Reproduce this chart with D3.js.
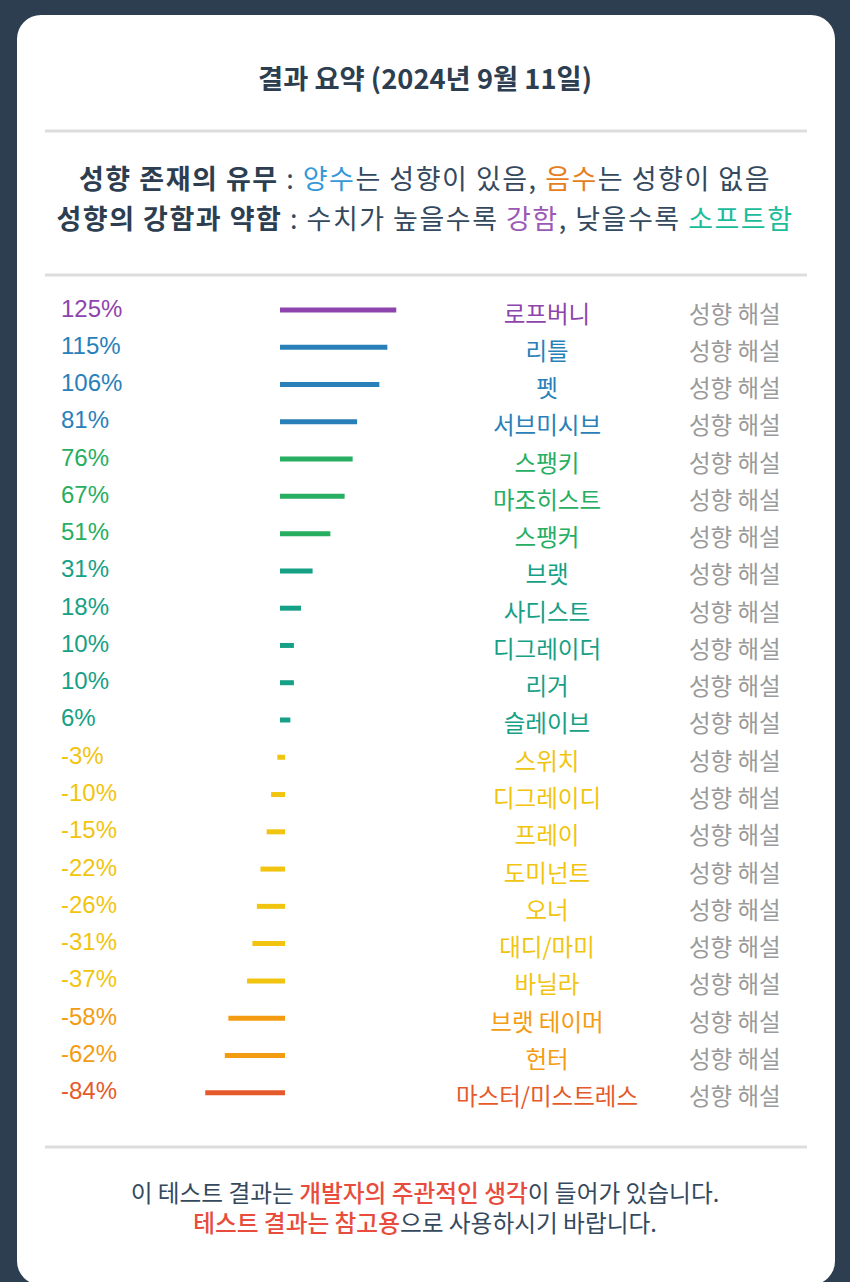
<!DOCTYPE html>
<html>
<head>
<meta charset="utf-8">
<script src="https://cdn.jsdelivr.net/npm/d3@7"></script>
<style>
  html, body { margin: 0; padding: 0; background: #2c3e50; }
  svg { display: block; }
</style>
</head>
<body>
<svg id="chart" width="850" height="1282"></svg>
<script>
// ---- data ----
const names = ['로프버니','리틀','펫','서브미시브','스팽키','마조히스트','스팽커','브랫','사디스트','디그레이더','리거','슬레이브','스위치','디그레이디','프레이','도미넌트','오너','대디/마미','바닐라','브랫 테이머','헌터','마스터/미스트레스'];
const values = [125,115,106,81,76,67,51,31,18,10,10,6,-3,-10,-15,-22,-26,-31,-37,-58,-62,-84];
const colors = ['#8e44ad','#2980b9','#2980b9','#2980b9','#27ae60','#27ae60','#27ae60','#16a085','#16a085','#16a085','#16a085','#16a085','#f1c40f','#f1c40f','#f1c40f','#f1c40f','#f1c40f','#f1c40f','#f1c40f','#f39c12','#f39c12','#e55a2b'];
const titleText = '결과 요약 (2024년 9월 11일)';
const linkText = '성향 해설';

const KR = "'Noto Sans CJK KR', 'Noto Sans', sans-serif";
const LAT = "'Liberation Sans', Arial, 'Noto Sans CJK KR', sans-serif";

const svg = d3.select('#chart');

// card
svg.append('rect').attr('x', 17).attr('y', 15).attr('width', 818).attr('height', 1270)
  .attr('rx', 24).attr('fill', '#ffffff');

// title
svg.append('text').attr('x', 425).attr('y', 77).attr('text-anchor', 'middle')
  .attr('dominant-baseline', 'central')
  .attr('font-family', KR).attr('font-size', 27.3).attr('font-weight', 700)
  .attr('fill', '#2c3e50').text(titleText);

// separators
[131, 275, 1147].forEach(y => {
  svg.append('rect').attr('x', 45).attr('y', y - 1.5).attr('width', 762).attr('height', 3)
    .attr('fill', '#dddddd');
});

// multi-line rich text block (one text element, one chunk per line)
function richBlock(y0, lines) {
  const t = svg.append('text').attr('text-anchor', 'middle')
    .attr('dominant-baseline', 'central')
    .attr('font-family', KR).attr('xml:space', 'preserve');
  let yy = y0;
  lines.forEach((ln, li) => {
    if (li > 0) yy += ln.gap;
    ln.parts.forEach((p, pi) => {
      const ts = t.append('tspan').attr('fill', p.c).attr('font-weight', p.w || 400)
        .attr('font-size', ln.size).attr('letter-spacing', ln.ls || 0)
        .style('white-space', 'pre').text(p.t);
      if (pi === 0) ts.attr('x', 425).attr('y', yy);
    });
  });
}
richBlock(176.5, [
  {size: 27, ls: 1.5, parts: [
    {t: '성향 존재의 유무', c: '#2c3e50', w: 700},
    {t: ' : ', c: '#34495e'},
    {t: '양수', c: '#3498db'},
    {t: '는 성향이 있음, ', c: '#34495e'},
    {t: '음수', c: '#e67e22'},
    {t: '는 성향이 없음', c: '#34495e'}
  ]},
  {size: 27, ls: 1.5, gap: 40, parts: [
    {t: '성향의 강함과 약함', c: '#2c3e50', w: 700},
    {t: ' : 수치가 높을수록 ', c: '#34495e'},
    {t: '강함', c: '#9b59b6'},
    {t: ', 낮을수록 ', c: '#34495e'},
    {t: '소프트함', c: '#1abc9c'}
  ]}
]);

// rows
const y = d3.scaleLinear().domain([0, names.length - 1]).range([310, 1092.7]);
const x = d3.scaleLinear().domain([-100, 100]).range([282.5 - 89, 282.5 + 89]);

const rows = svg.append('g').selectAll('g').data(values).join('g');

rows.append('text')
  .attr('x', 61).attr('y', (d, i) => y(i) - 2)
  .attr('dominant-baseline', 'central')
  .attr('font-family', LAT).attr('font-size', 24)
  .attr('fill', (d, i) => colors[i])
  .text(d => d + '%');

rows.append('line')
  .attr('x1', x(0)).attr('x2', d => x(d))
  .attr('y1', (d, i) => y(i)).attr('y2', (d, i) => y(i))
  .attr('stroke', (d, i) => colors[i]).attr('stroke-width', 5)
  .attr('stroke-linecap', 'square');

rows.append('text')
  .attr('x', 547).attr('y', (d, i) => y(i) + 2.5)
  .attr('text-anchor', 'middle').attr('dominant-baseline', 'central')
  .attr('font-family', KR).attr('font-size', 23.5)
  .attr('fill', (d, i) => colors[i])
  .text((d, i) => names[i]);

rows.append('text')
  .attr('x', 689).attr('y', (d, i) => y(i) + 2.5)
  .attr('dominant-baseline', 'central')
  .attr('font-family', KR).attr('font-size', 23.5)
  .attr('fill', '#9a9a9a')
  .text(linkText);

// footer
richBlock(1192, [
  {size: 23.7, parts: [
    {t: '이 테스트 결과는 ', c: '#34495e'},
    {t: '개발자의 주관적인 생각', c: '#e74c3c', w: 500},
    {t: '이 들어가 있습니다.', c: '#34495e'}
  ]},
  {size: 23.7, gap: 30, parts: [
    {t: '테스트 결과는 참고용', c: '#e74c3c', w: 500},
    {t: '으로 사용하시기 바랍니다.', c: '#34495e'}
  ]}
]);
</script>
</body>
</html>
